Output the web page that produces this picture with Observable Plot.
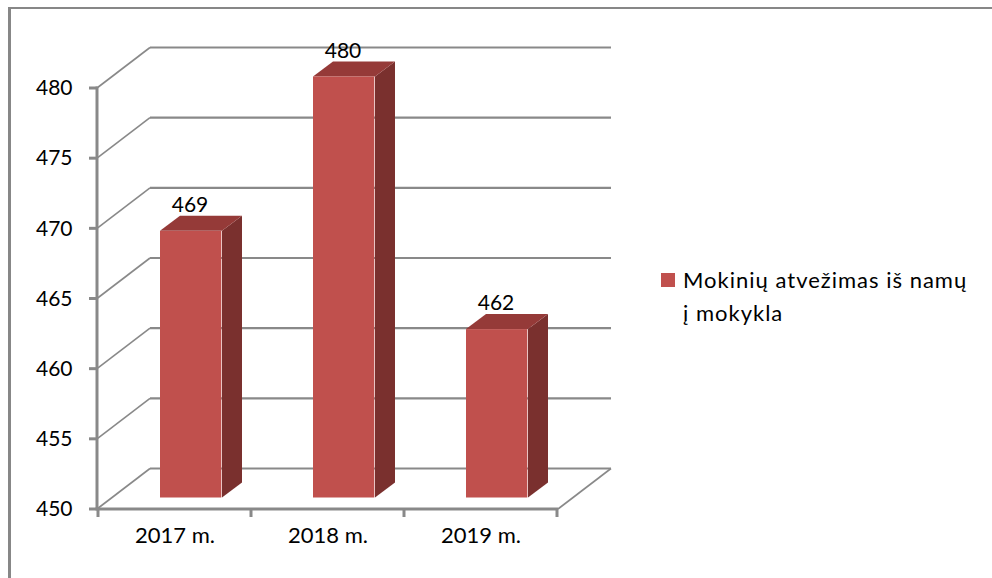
<!DOCTYPE html>
<html>
<head>
<meta charset="utf-8">
<script src="https://cdn.jsdelivr.net/npm/d3@7"></script>
<script src="https://cdn.jsdelivr.net/npm/@observablehq/plot@0.6"></script>
<style>
  html, body { margin: 0; padding: 0; background: #fff; overflow: hidden; }
  #wrap { position: relative; width: 992px; height: 578px; }
  #border { position: absolute; left: 8px; top: 7px; width: 2000px; height: 2000px;
            border-left: 3px solid #878787; border-top: 2px solid #878787; box-sizing: border-box; }
  #chart { position: absolute; left: 0; top: 0; }
  #legend { position: absolute; left: 661px; top: 263px; font-family: Lato, sans-serif;
            font-size: 22px; letter-spacing: 1px; line-height: 33px; color: #000; }
  #legend .sw { position: absolute; left: 0; top: 10px; width: 14px; height: 14px; background: #C0504D; }
  #legend .tx { position: absolute; left: 22px; top: 0; white-space: nowrap; }
</style>
</head>
<body>
<div id="wrap">
  <div id="border"></div>
  <div id="chart"></div>
  <div id="legend"></div>
</div>
<script>
// ---- data ----
const categories = ["2017 m.", "2018 m.", "2019 m."];
const values = [469, 480, 462];
const yTicks = [450, 455, 460, 465, 470, 475, 480];
const legendLines = ["Mokinių atvežimas iš namų", "į mokykla"];

// ---- style constants ----
const frontColor = "#C0504D", topColor = "#953a38", sideColor = "#7a302e";
const gridColor = "#898989";
const W = 992, H = 578, ML = 97, MR = 434, MT = 88, MB = 69;
const WALL_DX = 53, WALL_DY = -40.5;   // depth of the 3D box
const PLANE_DX = 15, PLANE_DY = -11.5; // front plane of the bars
const BAR_DX = 20, BAR_DY = -15;       // depth of each bar
const BAR_INSET_L = 47, BAR_W = 62;
const BANDWIDTH = (W - ML - MR) / categories.length;

const table = categories.map((c, i) => ({cat: c, value: values[i]}));
const yMin = yTicks[0], yMax = yTicks[yTicks.length - 1];

function box3d(index, scales, vals, dims) {
  const {x, y} = scales;
  const x0 = dims.marginLeft, x1 = dims.width - dims.marginRight;
  const g = d3.create("svg:g").attr("fill", "none").attr("stroke", gridColor);
  for (const t of yTicks) {
    const py = y(t);
    g.append("line").attr("x1", x0).attr("y1", py).attr("x2", x0 + WALL_DX).attr("y2", py + WALL_DY)
      .attr("stroke-width", 1.6);
    g.append("line").attr("x1", x0 + WALL_DX).attr("y1", py + WALL_DY).attr("x2", x1 + WALL_DX).attr("y2", py + WALL_DY)
      .attr("stroke-width", 2.2);
    g.append("line").attr("x1", x0 - 8).attr("y1", py).attr("x2", x0).attr("y2", py).attr("stroke-width", 3);
  }
  g.append("line").attr("x1", x1).attr("y1", y(yMin)).attr("x2", x1 + WALL_DX).attr("y2", y(yMin) + WALL_DY)
    .attr("stroke-width", 1.6);
  g.append("line").attr("x1", x0 - 1.5).attr("y1", y(yMin)).attr("x2", x1).attr("y2", y(yMin)).attr("stroke-width", 3);
  g.append("line").attr("x1", x0).attr("y1", y(yMax) - 1.5).attr("x2", x0).attr("y2", y(yMin)).attr("stroke-width", 3);
  const bounds = categories.map(c => x(c)).concat([x(categories[categories.length - 1]) + x.bandwidth()]);
  for (const b of bounds) {
    g.append("line").attr("x1", b).attr("y1", y(yMin)).attr("x2", b).attr("y2", y(yMin) + 8).attr("stroke-width", 3);
  }
  return g.node();
}

function barsDepth(index, scales) {
  const {x, y} = scales;
  const g = d3.create("svg:g").attr("stroke", "none");
  for (const d of table) {
    const xl = x(d.cat) + BAR_INSET_L + PLANE_DX, xr = xl + BAR_W;
    const yt = y(d.value) + PLANE_DY, yb = y(yMin) + PLANE_DY;
    g.append("polygon").attr("fill", sideColor)
      .attr("points", [[xr, yt], [xr + BAR_DX, yt + BAR_DY], [xr + BAR_DX, yb + BAR_DY], [xr, yb]].join(" "));
    g.append("polygon").attr("fill", topColor)
      .attr("points", [[xl, yt], [xl + BAR_DX, yt + BAR_DY], [xr + BAR_DX, yt + BAR_DY], [xr, yt]].join(" "));
  }
  return g.node();
}

const chart = Plot.plot({
  width: W,
  height: H,
  marginLeft: ML,
  marginRight: MR,
  marginTop: MT,
  marginBottom: MB,
  style: {fontFamily: "Lato, sans-serif", fontSize: "21px", background: "transparent", color: "#000"},
  x: {type: "band", domain: categories, padding: 0, axis: null},
  y: {domain: [yMin, yMax], axis: null},
  marks: [
    box3d,
    barsDepth,
    Plot.barY(table, {
      x: "cat", y1: yMin, y2: "value", fill: frontColor,
      insetLeft: BAR_INSET_L + PLANE_DX,
      insetRight: BANDWIDTH - BAR_INSET_L - PLANE_DX - BAR_W,
      dy: PLANE_DY
    }),
    Plot.text(yTicks, {y: d => d, frameAnchor: "left", dx: -25, textAnchor: "end", fill: "#000", fontSize: 21}),
    Plot.text(categories, {x: d => d, frameAnchor: "bottom", dy: 33, fill: "#000", fontSize: 22}),
    Plot.text(table, {x: "cat", y: "value", text: d => String(d.value), dx: 15, dy: -31,
                      lineAnchor: "bottom", fill: "#000", fontSize: 21})
  ]
});
document.getElementById("chart").appendChild(chart);

const legend = document.getElementById("legend");
legend.innerHTML = '<div class="sw"></div><div class="tx">' + legendLines.join("<br>") + '</div>';
</script>
</body>
</html>
